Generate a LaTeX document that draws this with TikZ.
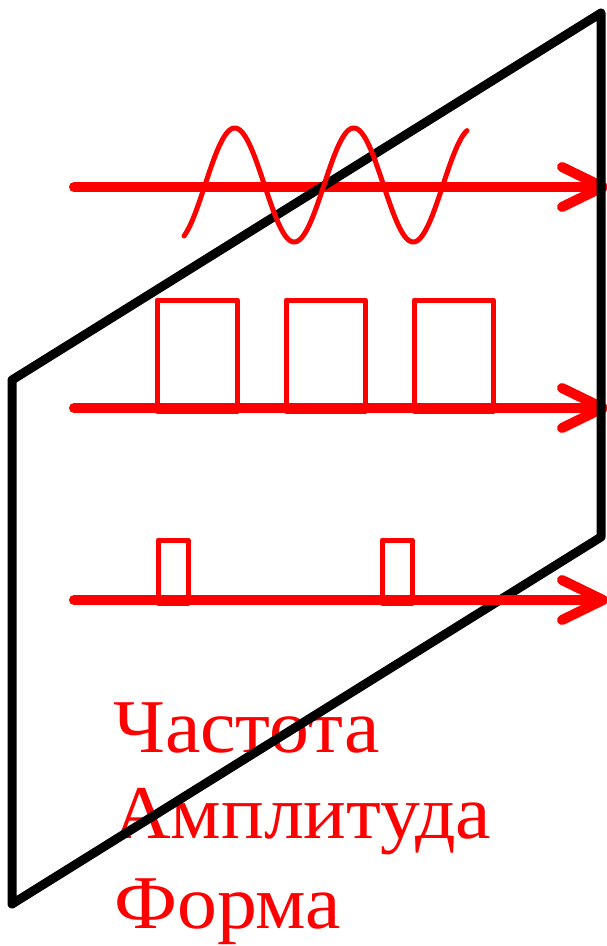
\documentclass[tikz,border=0pt]{standalone}
\usepackage{fontspec}
\setmainfont[FakeStretch=1.05]{Liberation Serif}
\begin{document}
\begin{tikzpicture}[x=1pt,y=-1pt,
  frame/.style={black, line width=9pt, line join=round, line cap=round},
  axisline/.style={red, line width=10pt, line cap=round, line join=round},
  wave/.style={red, line width=5pt, line cap=round, line join=round},
  lbl/.style={red, anchor=base west, inner sep=0pt, font=\fontsize{76}{88}\selectfont}]
\useasboundingbox (0,0) rectangle (606,946);
% labels
\node[lbl] (freq) at (113,752) {Частота};
\node[lbl] (ampl) at (113,838) {Амплитуда};
\node[lbl] (form) at (114,928) {Форма};
% axes
\coordinate (s1) at (74,187);  \coordinate (t1) at (603,187);
\coordinate (s2) at (74,408);  \coordinate (t2) at (603,408);
\coordinate (s3) at (74,600);  \coordinate (t3) at (603,600);
\coordinate (u1) at (562,167); \coordinate (l1) at (562,207);
\coordinate (u2) at (562,388); \coordinate (l2) at (562,428);
\coordinate (u3) at (562,580); \coordinate (l3) at (562,620);
\draw[axisline] (s1) -- (598,187);
\draw[axisline] (u1) -- (t1) -- (l1);
\draw[axisline] (s2) -- (598,408);
\draw[axisline] (u2) -- (t2) -- (l2);
% frame
\draw[frame] (12,380) -- (601,13) -- (601,537) -- (12,904) -- cycle;
\draw[axisline] (s3) -- (598,600);
\draw[axisline] (u3) -- (t3) -- (l3);
% sine
\draw[wave] plot[domain=184:467, samples=160, smooth] (\x, {185-57*sin(3.0252*(\x-205))});
% square pulses
\draw[wave] (157,411) rectangle (237,300);
\draw[wave] (286,411) rectangle (365,300);
\draw[wave] (414,411) rectangle (493,300);
% short pulses
\draw[wave] (158,603) rectangle (188,540);
\draw[wave] (382,603) rectangle (412,540);
\end{tikzpicture}
\end{document}
